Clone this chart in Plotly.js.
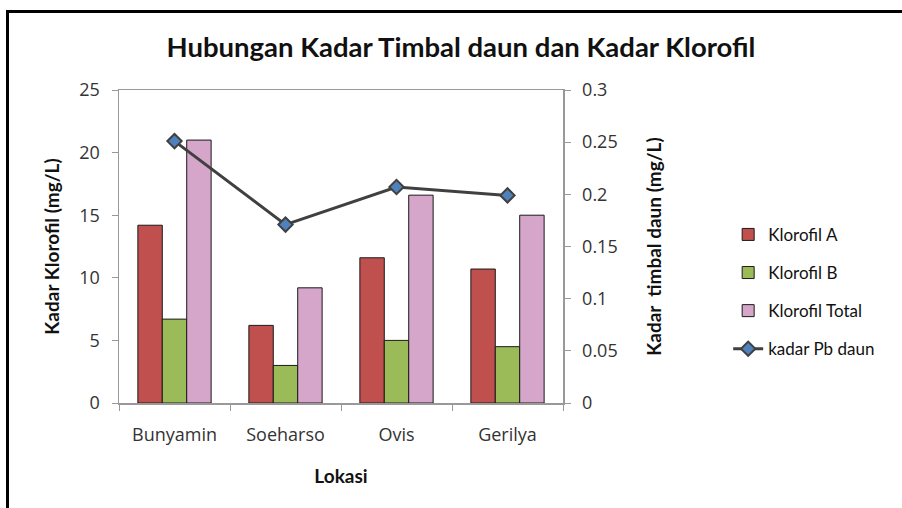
<!DOCTYPE html>
<html>
<head>
<meta charset="utf-8">
<script src="https://cdn.plot.ly/plotly-3.0.1.min.js"></script>
<style>
  html, body { margin: 0; padding: 0; overflow: hidden; background: #fff; }
  #frame { position: absolute; left: 6px; top: 10px; width: 1000px; height: 600px; border: 3px solid #000; box-sizing: border-box; }
  #chart { position: absolute; left: 0; top: 0; width: 902px; height: 508px; }
</style>
</head>
<body>
<div id="frame"></div>
<div id="chart"></div>
<script>
const lokasi = ["Bunyamin", "Soeharso", "Ovis", "Gerilya"];
const klorofilA = [14.2, 6.2, 11.6, 10.7];
const klorofilB = [6.7, 3.0, 5.0, 4.5];
const klorofilTotal = [21.0, 9.2, 16.6, 15.0];
const kadarPb = [0.251, 0.171, 0.207, 0.199];

const FONT = "Lato, 'Open Sans', sans-serif";
const TICKFONT = "'Open Sans', Lato, sans-serif";
const barLine = { color: "#1a1a1a", width: 1 };

const traces = [
  { type: "bar", name: "Klorofil A", x: lokasi, y: klorofilA, marker: { color: "#C0504D", line: barLine }, legendgroup: "a" },
  { type: "bar", name: "Klorofil B", x: lokasi, y: klorofilB, marker: { color: "#9BBB59", line: barLine }, legendgroup: "b" },
  { type: "bar", name: "Klorofil Total", x: lokasi, y: klorofilTotal, marker: { color: "#D5A6C9", line: barLine }, legendgroup: "c" },
  { type: "scatter", mode: "lines+markers", name: "kadar Pb daun", x: lokasi, y: kadarPb, yaxis: "y2", legendgroup: "d",
    line: { color: "#404040", width: 3 },
    marker: { symbol: "diamond", size: 11, color: "#4F81BD", line: { color: "#404040", width: 2 } } }
];

const layout = {
  width: 902, height: 508,
  margin: { l: 119, r: 339, t: 90, b: 105 },
  paper_bgcolor: "rgba(0,0,0,0)",
  plot_bgcolor: "#fff",
  font: { family: FONT, size: 15, color: "#222" },
  title: { text: "<b>Hubungan Kadar Timbal daun dan Kadar Klorofil</b>", x: 0.511, xanchor: "center", y: 0.907, yanchor: "middle",
           font: { family: FONT, size: 27.5, color: "#111" } },
  barmode: "group",
  bargap: 0.34,
  bargroupgap: 0,
  xaxis: {
    type: "category",
    showline: true, linecolor: "#999", linewidth: 1.5, mirror: true,
    ticks: "outside", tickson: "boundaries", ticklen: 6, tickcolor: "#999",
    ticklabelstandoff: 15,
    tickfont: { family: TICKFONT, size: 18, color: "#333" },
    title: { text: "<b>Lokasi</b>", font: { family: FONT, size: 19, color: "#111" }, standoff: 24 },
    showgrid: false, zeroline: false
  },
  yaxis: {
    range: [0, 25], dtick: 5,
    showline: true, linecolor: "#999", linewidth: 1.5, mirror: true,
    ticks: "outside", ticklen: 6, tickcolor: "#999",
    ticklabelstandoff: 8,
    tickfont: { family: TICKFONT, size: 18, color: "#333" },
    title: { text: "<b>Kadar Klorofil (mg/L)</b>", font: { family: FONT, size: 19, color: "#111" }, standoff: 14 },
    showgrid: false, zeroline: false
  },
  yaxis2: {
    overlaying: "y", side: "right",
    range: [0, 0.3], dtick: 0.05,
    showline: true, linecolor: "#999", linewidth: 1.5,
    ticks: "outside", ticklen: 6, tickcolor: "#999",
    ticklabelstandoff: 8,
    tickfont: { family: TICKFONT, size: 18, color: "#333" },
    title: { text: "<b>Kadar  timbal daun (mg/L)</b>", font: { family: FONT, size: 19, color: "#111" }, standoff: 31 },
    showgrid: false, zeroline: false
  },
  legend: {
    x: 1.372, xanchor: "left", y: 0.355, yanchor: "middle",
    font: { family: FONT, size: 17, color: "#111" },
    tracegroupgap: 13,
    bgcolor: "rgba(0,0,0,0)"
  },
  showlegend: true
};

Plotly.newPlot("chart", traces, layout, { displayModeBar: false, staticPlot: true });
</script>
</body>
</html>
